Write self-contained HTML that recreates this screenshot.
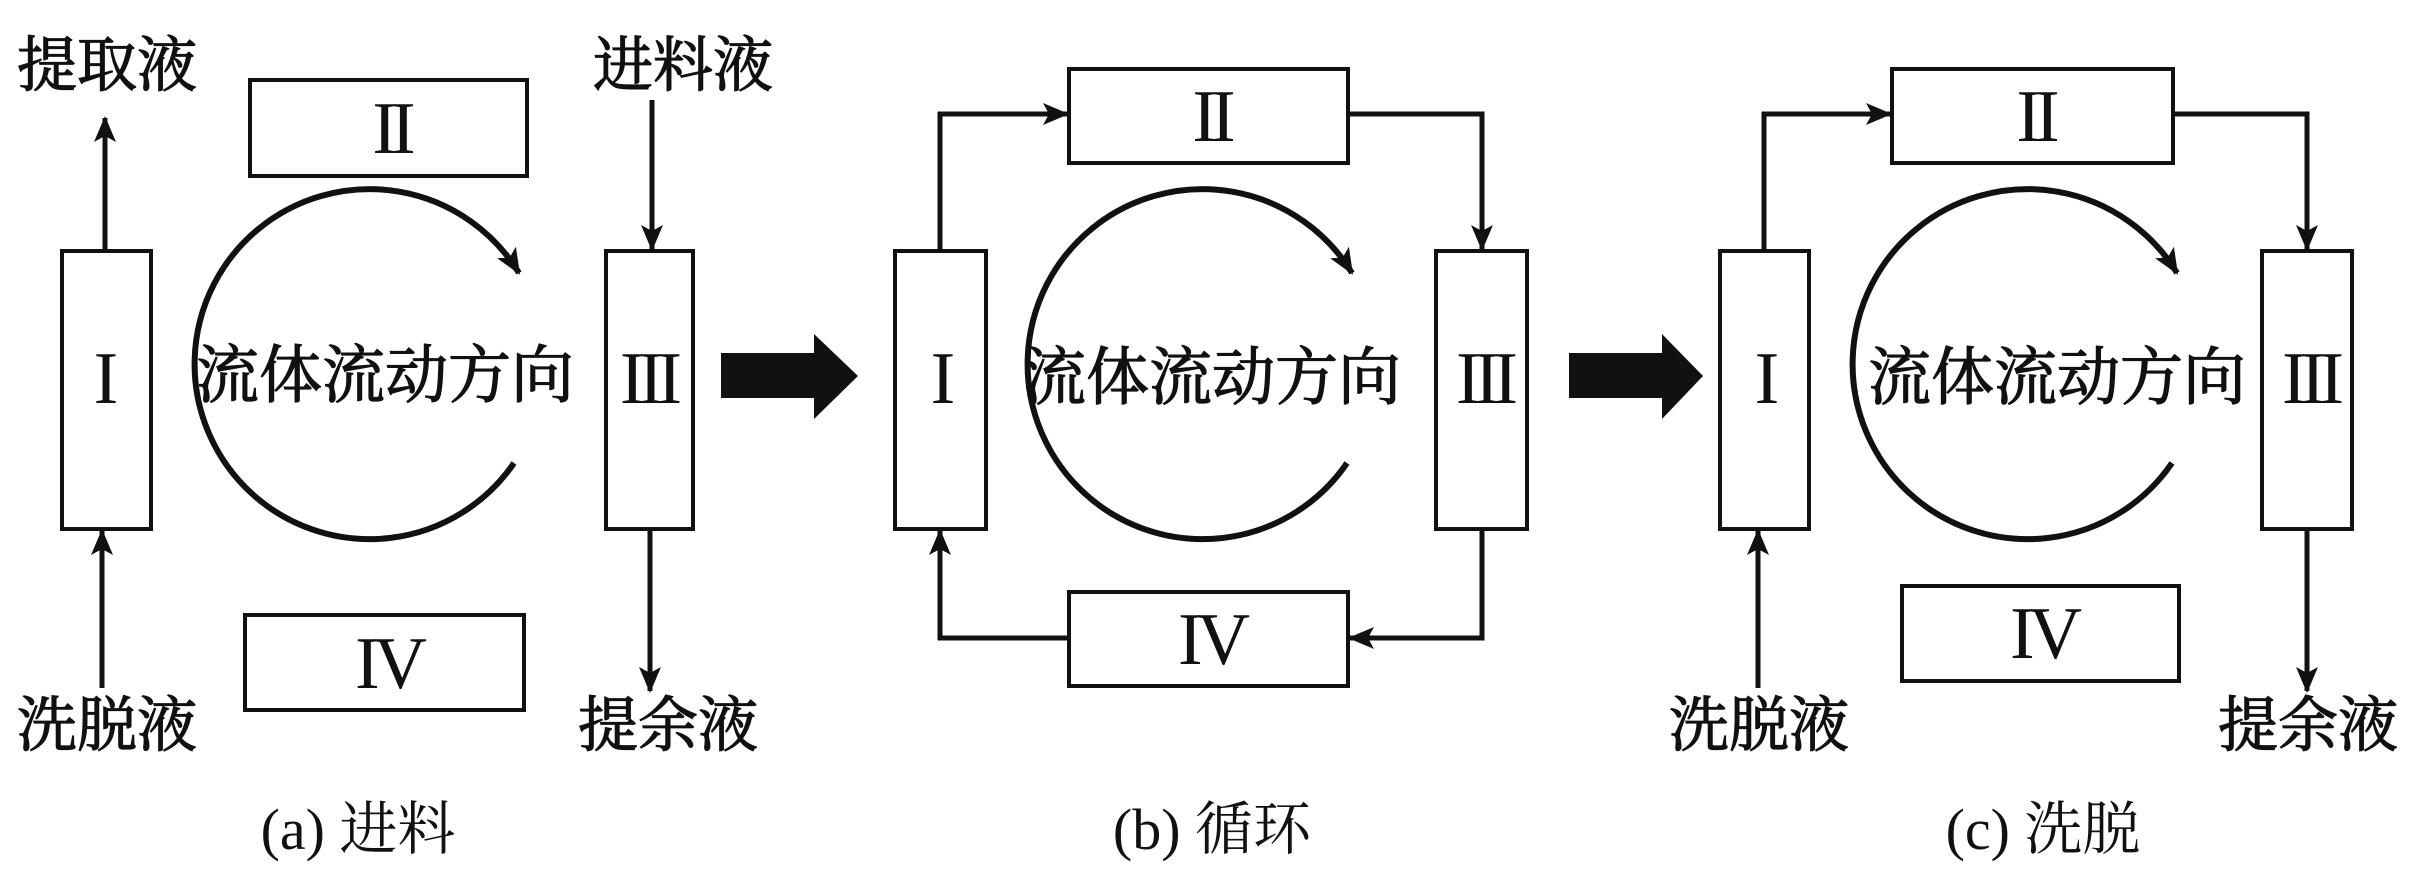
<!DOCTYPE html>
<html><head><meta charset="utf-8"><style>
html,body{margin:0;padding:0;background:#fff;}
svg{display:block;}
.cn{font-family:"Liberation Serif","Noto Serif CJK SC",serif;font-size:60px;fill:#111;stroke:#111;stroke-width:1.2px;}
.rn{font-family:"Liberation Serif",serif;font-size:74px;fill:#111;letter-spacing:-6px;}
.cap{font-family:"Liberation Serif","Noto Serif CJK SC",serif;font-size:58px;fill:#111;}
</style></head><body>
<svg width="2415" height="879" viewBox="0 0 2415 879" xmlns="http://www.w3.org/2000/svg">
<defs>
<marker id="ah" markerUnits="userSpaceOnUse" markerWidth="28" markerHeight="24" refX="24" refY="12" orient="auto">
<path d="M0,1 L26,12 L0,23 L6,12 Z" fill="#111"/>
</marker>
</defs>
<g fill="none" stroke="#111" stroke-width="4">
<rect x="62" y="251" width="89" height="278"/>
<rect x="250" y="80" width="277" height="96"/>
<rect x="606" y="251" width="87" height="278"/>
<rect x="245" y="615" width="279" height="95"/>
<rect x="895" y="251" width="91" height="278"/>
<rect x="1069" y="69" width="279" height="94"/>
<rect x="1436" y="251" width="91" height="278"/>
<rect x="1069" y="592" width="279" height="94"/>
<rect x="1720" y="251" width="89" height="278"/>
<rect x="1892" y="69" width="281" height="94"/>
<rect x="2262" y="251" width="90" height="278"/>
<rect x="1902" y="586" width="277" height="95"/>
</g>
<g fill="none" stroke="#111" stroke-width="5">
<line x1="105" y1="251" x2="105" y2="118" marker-end="url(#ah)"/>
<line x1="102" y1="688" x2="102" y2="531" marker-end="url(#ah)"/>
<line x1="652" y1="100" x2="652" y2="249" marker-end="url(#ah)"/>
<line x1="650" y1="529" x2="650" y2="691" marker-end="url(#ah)"/>
<polyline points="940,251 940,114 1067,114" marker-end="url(#ah)"/>
<polyline points="1348,114 1482,114 1482,249" marker-end="url(#ah)"/>
<polyline points="1482,529 1482,638 1350,638" marker-end="url(#ah)"/>
<polyline points="1069,638 940,638 940,531" marker-end="url(#ah)"/>
<polyline points="1764,251 1764,114 1890,114" marker-end="url(#ah)"/>
<polyline points="2173,114 2307,114 2307,249" marker-end="url(#ah)"/>
<line x1="2307" y1="529" x2="2307" y2="691" marker-end="url(#ah)"/>
<line x1="1758" y1="688" x2="1758" y2="531" marker-end="url(#ah)"/>
</g>
<g fill="none" stroke="#111" stroke-width="6">
<path d="M514,463 A175,175 0 1 1 519,273" marker-end="url(#ah)"/>
<path d="M1347,463 A175,175 0 1 1 1352,273" marker-end="url(#ah)"/>
<path d="M2172,463 A175,175 0 1 1 2177,273" marker-end="url(#ah)"/>
</g>
<path d="M721,353 L814,353 L814,334 L858,376 L814,419 L814,398 L721,398 Z" fill="#111"/>
<path d="M1569,353 L1662,353 L1662,334 L1703,376 L1662,419 L1662,398 L1569,398 Z" fill="#111"/>
<g class="rn" text-anchor="middle">
<text x="103" y="403">I</text>
<text x="391" y="153">II</text>
<text x="648" y="403">III</text>
<text x="388" y="688">IV</text>
<text x="940" y="403">I</text>
<text x="1211" y="141">II</text>
<text x="1484" y="403">III</text>
<text x="1211" y="664">IV</text>
<text x="1764" y="403">I</text>
<text x="2035" y="141">II</text>
<text x="2310" y="403">III</text>
<text x="2043" y="658">IV</text>
</g>
<g class="cn" text-anchor="middle">
<text x="107" y="86">提取液</text>
<text x="107" y="746">洗脱液</text>
<text x="683" y="86">进料液</text>
<text x="668" y="746">提余液</text>
<text x="1759" y="746">洗脱液</text>
<text x="2308" y="746">提余液</text>
<text x="385" y="397" style="font-size:63px">流体流动方向</text>
<text x="1212" y="399" style="font-size:63px">流体流动方向</text>
<text x="2057" y="399" style="font-size:63px">流体流动方向</text>
</g>
<g class="cap" text-anchor="middle">
<text x="358" y="849">(a) 进料</text>
<text x="1212" y="849">(b) 循环</text>
<text x="2043" y="849">(c) 洗脱</text>
</g>
</svg>
</body></html>
